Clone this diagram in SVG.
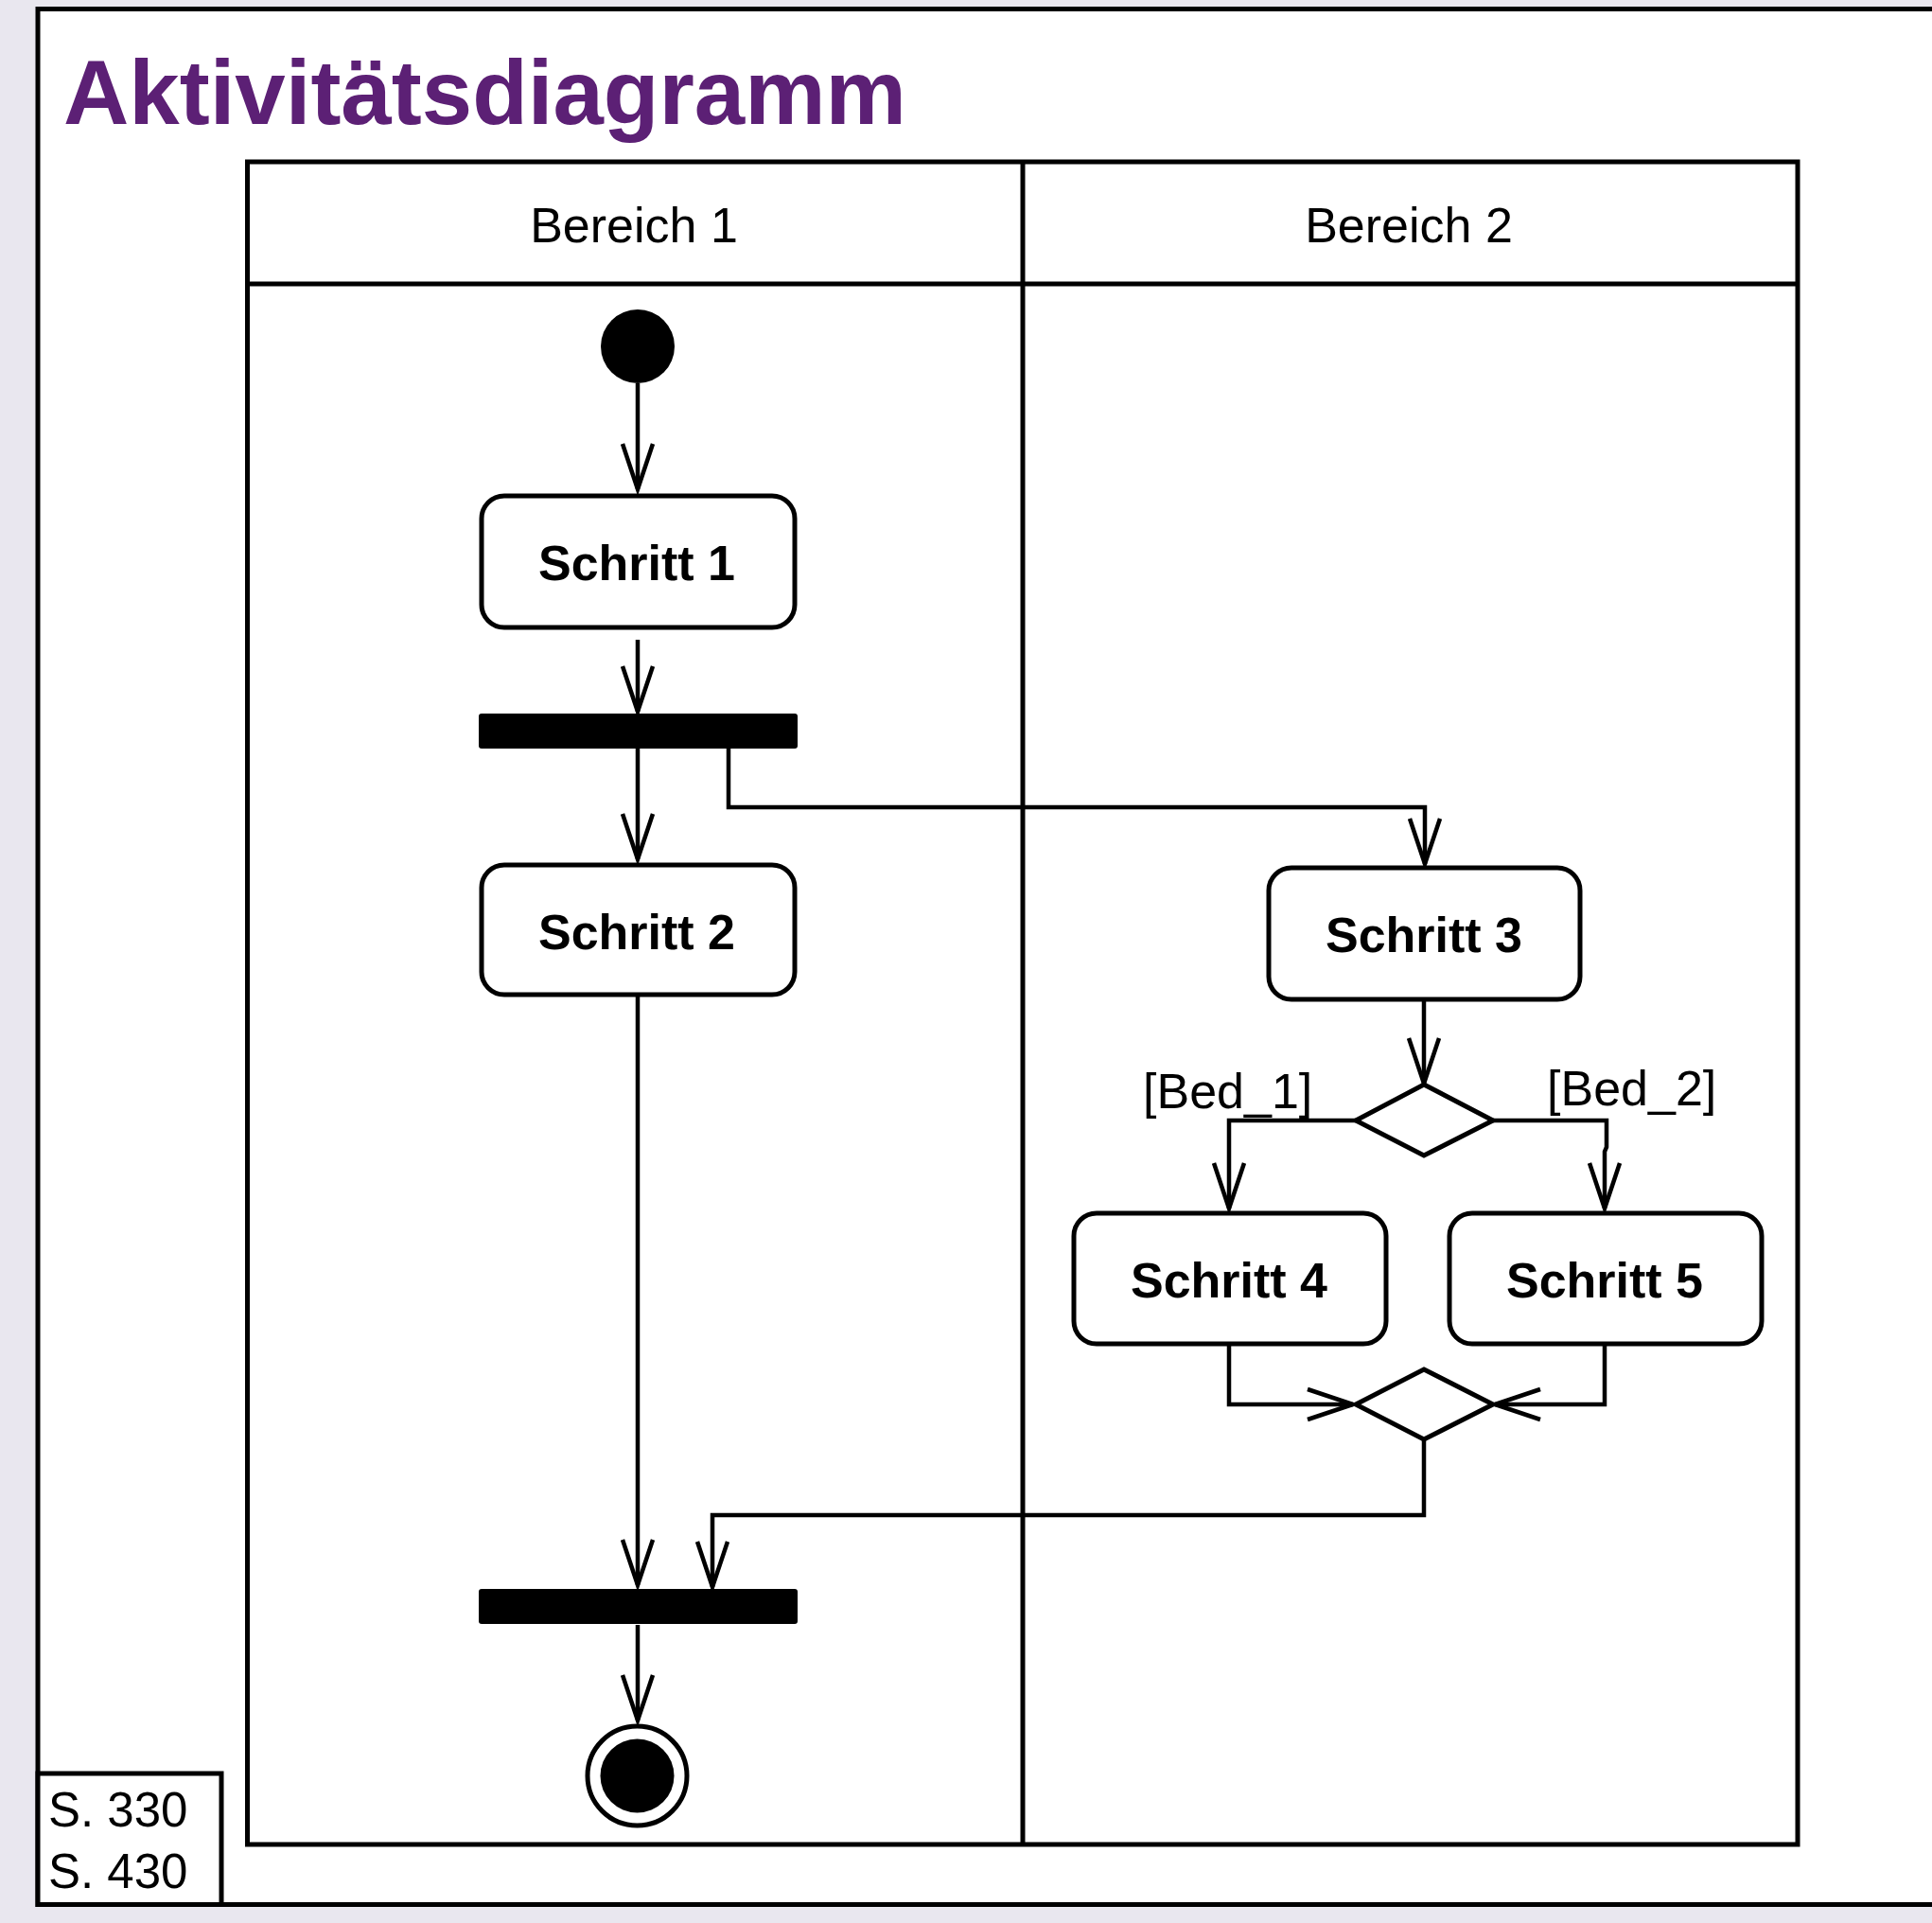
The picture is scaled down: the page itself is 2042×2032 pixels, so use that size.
<svg xmlns="http://www.w3.org/2000/svg" width="2042" height="2032" viewBox="0 0 2042 2032">
<defs>
<style>
.frame{fill:#fff;stroke:#000;stroke-width:5}
.lane{fill:none;stroke:#000;stroke-width:5}
.act{fill:#fff;stroke:#000;stroke-width:5}
.bar{fill:#000}
.dec{fill:#fff;stroke:#000;stroke-width:5;stroke-linejoin:miter}
.con{fill:none;stroke:#000;stroke-width:4.5}
.lbl{font-family:"Liberation Sans",Arial,Helvetica,sans-serif;font-size:52px;fill:#000}
.bold{font-weight:bold}
.title{font-family:"Liberation Sans",Arial,Helvetica,sans-serif;font-size:96px;font-weight:bold;fill:#5c2075}
</style>
<marker id="arr" markerUnits="userSpaceOnUse" markerWidth="60" markerHeight="40" refX="48" refY="16" orient="auto" overflow="visible">
<path d="M0,0 L48,16 L0,32" fill="none" stroke="#000" stroke-width="4.5"/>
</marker>
</defs>
<rect x="0" y="0" width="2042" height="2032" fill="#e9e7ef"/>
<rect class="frame" x="40" y="9.5" width="2020" height="2003"/>
<text class="title" x="67" y="131">Aktivitätsdiagramm</text>

<g id="swimlanes">
<rect class="lane" x="261.5" y="171" width="1638.5" height="1778"/>
<line class="lane" x1="261.5" y1="300" x2="1900" y2="300"/>
<line class="lane" x1="1081" y1="171" x2="1081" y2="1949"/>
<text class="lbl" x="670" y="256" text-anchor="middle">Bereich 1</text>
<text class="lbl" x="1489" y="256" text-anchor="middle">Bereich 2</text>
</g>

<g id="connectors">
<path class="con" d="M674,405 V517" marker-end="url(#arr)"/>
<path class="con" d="M674,676 V752" marker-end="url(#arr)"/>
<path class="con" d="M674,791 V908" marker-end="url(#arr)"/>
<path class="con" d="M770,791 V853 H1506 V913" marker-end="url(#arr)"/>
<path class="con" d="M1505,1058 V1145" marker-end="url(#arr)"/>
<path class="con" d="M1433,1184 H1299 V1277" marker-end="url(#arr)"/>
<path class="con" d="M1578,1184 H1698 V1212 L1696,1217 V1277" marker-end="url(#arr)"/>
<path class="con" d="M1299,1422 V1484 H1430" marker-end="url(#arr)"/>
<path class="con" d="M1696,1422 V1484 H1580" marker-end="url(#arr)"/>
<path class="con" d="M1505,1521 V1601 H753 V1677" marker-end="url(#arr)"/>
<path class="con" d="M674,1053 V1675" marker-end="url(#arr)"/>
<path class="con" d="M674,1717 V1818" marker-end="url(#arr)"/>
</g>

<g id="start">
<circle cx="674" cy="366" r="39" fill="#000"/>
</g>
<g id="schritt1">
<rect class="act" x="509" y="524" width="331" height="139" rx="24"/>
<text class="lbl bold" x="673" y="613" text-anchor="middle">Schritt 1</text>
</g>
<g id="fork">
<rect class="bar" x="506" y="754" width="337" height="37" rx="3"/>
</g>
<g id="schritt2">
<rect class="act" x="509" y="914" width="331" height="137" rx="24"/>
<text class="lbl bold" x="673" y="1003" text-anchor="middle">Schritt 2</text>
</g>
<g id="schritt3">
<rect class="act" x="1341" y="917" width="329" height="139" rx="24"/>
<text class="lbl bold" x="1505" y="1006" text-anchor="middle">Schritt 3</text>
</g>
<g id="decision">
<polygon class="dec" points="1505,1146 1578,1184 1505,1221 1433,1184"/>
</g>
<g id="guard1">
<text class="lbl" x="1208" y="1171">[Bed_1]</text>
</g>
<g id="guard2">
<text class="lbl" x="1635" y="1168">[Bed_2]</text>
</g>
<g id="schritt4">
<rect class="act" x="1135" y="1282" width="330" height="138" rx="24"/>
<text class="lbl bold" x="1299" y="1371" text-anchor="middle">Schritt 4</text>
</g>
<g id="schritt5">
<rect class="act" x="1532" y="1282" width="330" height="138" rx="24"/>
<text class="lbl bold" x="1696" y="1371" text-anchor="middle">Schritt 5</text>
</g>
<g id="merge">
<polygon class="dec" points="1505,1447 1578,1484 1505,1521 1433,1484"/>
</g>
<g id="join">
<rect class="bar" x="506" y="1679" width="337" height="37" rx="3"/>
</g>
<g id="end">
<circle cx="673.5" cy="1876.5" r="52.5" fill="#fff" stroke="#000" stroke-width="5"/>
<circle cx="673.5" cy="1876.5" r="39" fill="#000"/>
</g>
<g id="pagerefs">
<rect x="40" y="1874" width="194" height="138.5" fill="#fff" stroke="#000" stroke-width="5"/>
<text class="lbl" x="51" y="1930" style="font-size:51px">S. 330</text>
<text class="lbl" x="51" y="1995" style="font-size:51px">S. 430</text>
</g>
</svg>
